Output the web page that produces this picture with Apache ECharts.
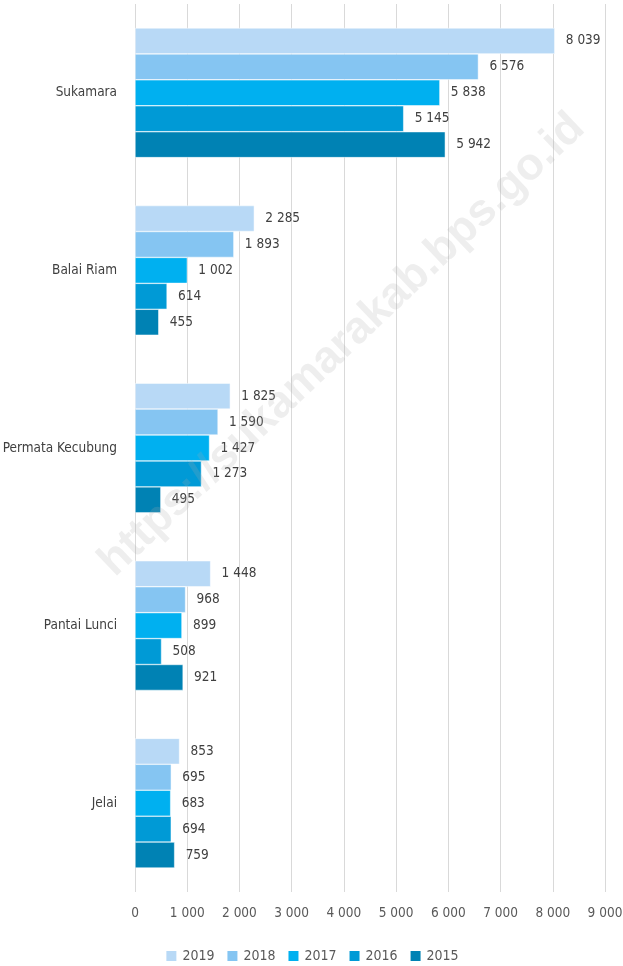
<!DOCTYPE html>
<html><head><meta charset="utf-8">
<script src="https://cdn.jsdelivr.net/npm/echarts@6/dist/echarts.min.js"></script>
<style>html,body{margin:0;padding:0;background:#fff}#c{width:623px;height:966px}</style>
</head><body><div id="c"></div>
<script>
const categories = ['Sukamara', 'Balai Riam', 'Permata Kecubung', 'Pantai Lunci', 'Jelai'];
const years = ['2019', '2018', '2017', '2016', '2015'];
const v2019 = [8039, 2285, 1825, 1448, 853];
const v2018 = [6576, 1893, 1590, 968, 695];
const v2017 = [5838, 1002, 1427, 899, 683];
const v2016 = [5145, 614, 1273, 508, 694];
const v2015 = [5942, 455, 495, 921, 759];
const values = [v2019, v2018, v2017, v2016, v2015];
const colors = ['#b8d9f6', '#85c5f2', '#00b0f0', '#009ad6', '#0082b4'];
const FONT = "'DejaVu Sans Condensed', 'Liberation Sans Narrow', sans-serif";
const fmt = v => String(v).replace(/\B(?=(\d{3})+(?!\d))/g, ' ');

const chart = echarts.init(document.getElementById('c'));
chart.setOption({
  animation: false,
  color: colors,
  grid: { left: 135, right: 18, top: 4, bottom: 74, outerBoundsMode: 'none', containLabel: false },
  xAxis: {
    type: 'value', min: 0, max: 9000, interval: 1000,
    axisLine: { show: false }, axisTick: { show: false },
    splitLine: { lineStyle: { color: '#d9d9d9', width: 1 } },
    axisLabel: { formatter: fmt, fontFamily: FONT, fontSize: 13.5, color: '#595959', margin: 14 }
  },
  yAxis: {
    type: 'category', data: categories, inverse: true,
    axisLine: { show: false }, axisTick: { show: false },
    axisLabel: { fontFamily: FONT, fontSize: 13.5, color: '#404040', margin: 18 }
  },
  legend: {
    bottom: 3, left: 'center', padding: 0, itemWidth: 12, itemHeight: 12, itemGap: 11,
    icon: 'rect',
    textStyle: { fontFamily: FONT, fontSize: 14, color: '#595959' },
    data: years
  },
  graphic: [{
    type: 'text',
    x: 342, y: 345, rotation: Math.PI * 43.5 / 180,
    style: {
      text: 'https://sukamarakab.bps.go.id', x: 0, y: 0,
      align: 'center', verticalAlign: 'middle',
      font: "bold 45px 'Liberation Sans', sans-serif", fill: 'rgba(170,170,170,0.2)'
    },
    silent: true, z: 100
  }],
  series: years.map((y, i) => ({
    name: y, type: 'bar', data: values[i],
    barGap: '0%', barCategoryGap: '27%',
    itemStyle: { color: colors[i], borderColor: '#ffffff', borderWidth: 0.5 },
    label: {
      show: true, position: 'right', distance: 11, formatter: p => fmt(p.value),
      fontFamily: FONT, fontSize: 13.5, color: '#404040'
    }
  }))
});
</script></body></html>
